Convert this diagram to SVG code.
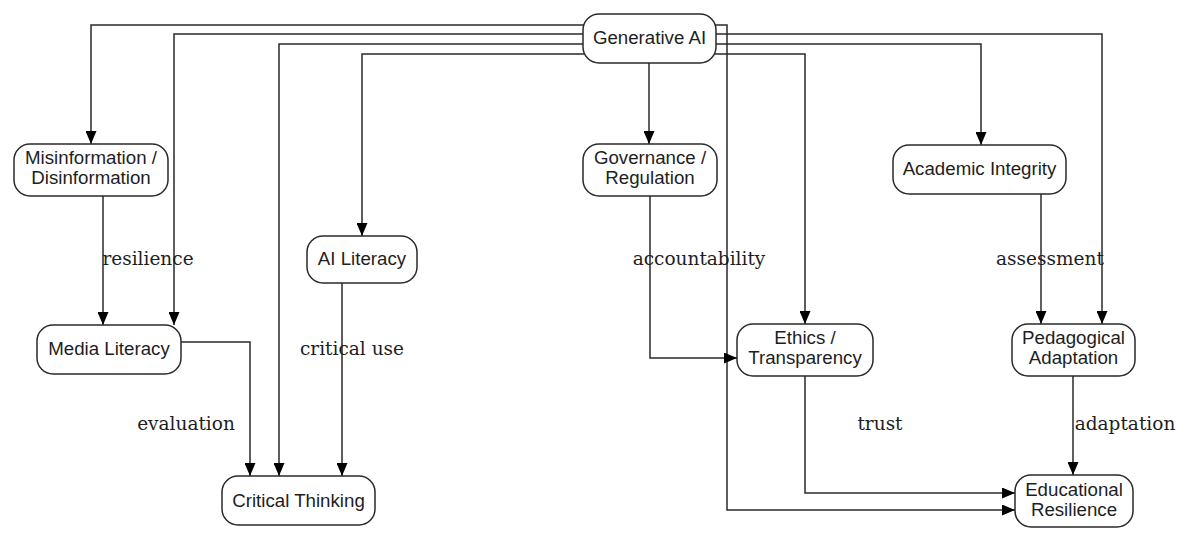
<svg xmlns="http://www.w3.org/2000/svg" width="1186" height="541" viewBox="0 0 1186 541">
  <defs>
    <marker id="arrow" viewBox="0 0 13 11" refX="13" refY="5.5" markerWidth="13" markerHeight="11" markerUnits="userSpaceOnUse" orient="auto">
      <path d="M0,0 L13,5.5 L0,11 Z" fill="#000000"/>
    </marker>
    <style>
      .bg { fill: #ffffff; }
      .node rect { fill: #ffffff; stroke: #2a2a2a; stroke-width: 1.5; }
      .node text { font-family: "Liberation Sans", Arial, sans-serif; font-size: 18.7px; fill: #1e1e1e; text-anchor: middle; }
      .edge { fill: none; stroke: #2a2a2a; stroke-width: 1.5; marker-end: url(#arrow); }
      .label { font-family: "DejaVu Serif", "Liberation Serif", serif; font-size: 18.5px; fill: #1e1e1e; text-anchor: middle; }
    </style>
  </defs>

  <rect class="bg" x="0" y="0" width="1186" height="541"/>

  <!-- connectors -->
  <g id="connectors">
    <!-- Generative AI, left-hand fan-out -->
    <path class="edge" d="M584,25 H91 V144"/>
    <path class="edge" d="M584,34 H174 V325"/>
    <path class="edge" d="M584,44 H279 V476"/>
    <path class="edge" d="M584,54 H362 V236"/>
    <!-- Generative AI, straight down -->
    <path class="edge" d="M649,63 V144"/>
    <!-- Generative AI, right-hand fan-out -->
    <path class="edge" d="M715,25 H727 V510 H1015"/>
    <path class="edge" d="M715,34 H1102 V324"/>
    <path class="edge" d="M715,44 H981 V145"/>
    <path class="edge" d="M715,54 H805 V324"/>

    <!-- node to node -->
    <path class="edge" d="M103,196 V325"/>
    <path class="edge" d="M181,342 H250 V476"/>
    <path class="edge" d="M342,283 V476"/>
    <path class="edge" d="M650,196 V358 H737"/>
    <path class="edge" d="M1041,194 V324"/>
    <path class="edge" d="M805,376 V493 H1015"/>
    <path class="edge" d="M1073,376 V475"/>

    <!-- edge labels -->
    <text class="label" x="148" y="265">resilience</text>
    <text class="label" x="186" y="430">evaluation</text>
    <text class="label" x="352" y="355">critical use</text>
    <text class="label" x="699" y="265">accountability</text>
    <text class="label" x="880" y="430">trust</text>
    <text class="label" x="1050" y="265">assessment</text>
    <text class="label" x="1125" y="430">adaptation</text>
  </g>

  <!-- nodes -->
  <g id="generative-ai" class="node">
    <rect x="583" y="14" width="133" height="49" rx="16"/>
    <text x="649.5" y="44">Generative AI</text>
  </g>

  <g id="misinformation" class="node">
    <rect x="14" y="144" width="154" height="52" rx="16"/>
    <text x="91" y="164">Misinformation /</text>
    <text x="91" y="184">Disinformation</text>
  </g>

  <g id="governance" class="node">
    <rect x="583" y="144" width="134" height="52" rx="16"/>
    <text x="650" y="164">Governance /</text>
    <text x="650" y="184">Regulation</text>
  </g>

  <g id="academic-integrity" class="node">
    <rect x="893" y="145" width="173" height="49" rx="16"/>
    <text x="979.5" y="175">Academic Integrity</text>
  </g>

  <g id="ai-literacy" class="node">
    <rect x="307" y="236" width="110" height="47" rx="16"/>
    <text x="362" y="265">AI Literacy</text>
  </g>

  <g id="media-literacy" class="node">
    <rect x="37" y="325" width="144" height="49" rx="16"/>
    <text x="109" y="355">Media Literacy</text>
  </g>

  <g id="ethics" class="node">
    <rect x="737" y="324" width="136" height="52" rx="16"/>
    <text x="805" y="344">Ethics /</text>
    <text x="805" y="364">Transparency</text>
  </g>

  <g id="pedagogical-adaptation" class="node">
    <rect x="1012" y="324" width="123" height="52" rx="16"/>
    <text x="1073.5" y="344">Pedagogical</text>
    <text x="1073.5" y="364">Adaptation</text>
  </g>

  <g id="critical-thinking" class="node">
    <rect x="222" y="476" width="153" height="49" rx="16"/>
    <text x="298.5" y="507">Critical Thinking</text>
  </g>

  <g id="educational-resilience" class="node">
    <rect x="1015" y="475" width="118" height="52" rx="16"/>
    <text x="1074" y="496">Educational</text>
    <text x="1074" y="516">Resilience</text>
  </g>
</svg>
